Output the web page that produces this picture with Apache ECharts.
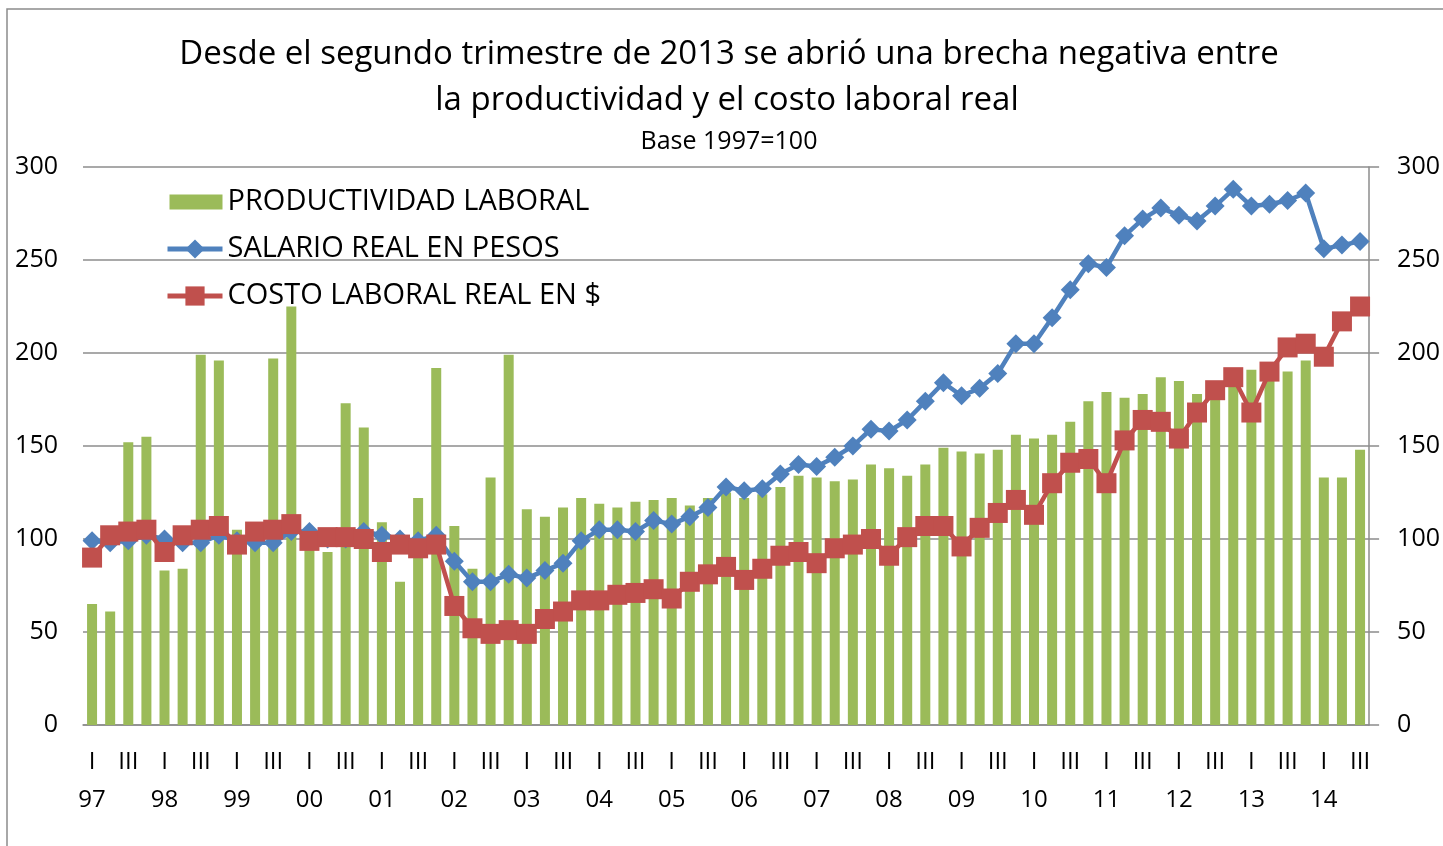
<!DOCTYPE html>
<html>
<head>
<meta charset="utf-8">
<script src="https://cdn.jsdelivr.net/npm/echarts@6/dist/echarts.min.js"></script>
<style>
html,body{margin:0;padding:0;background:#fff;}
#chart{width:1443px;height:846px;}
</style>
</head>
<body>
<div id="chart"></div>
<script>
// ---- data ----
var years = ['97','98','99','00','01','02','03','04','05','06','07','08','09','10','11','12','13','14'];
var quarterLabels = ['I','','III',''];
var nQuarters = 71; // 1997 Q1 .. 2014 Q3

var productividad = [65,61,152,155,83,84,199,196,105,97,197,225,98,93,173,160,109,77,122,192,
  107,84,133,199,116,112,117,122,119,117,120,121,122,118,122,125,122,124,128,134,
  133,131,132,140,138,134,140,149,147,146,148,156,154,156,163,174,179,176,178,187,
  185,178,181,186,191,187,190,196,133,133,148];

var salario = [99,98,99,102,100,98,98,102,99,98,98,104,104,100,100,104,102,100,99,102,
  88,77,77,81,79,83,87,99,105,105,104,110,108,112,117,128,126,127,135,140,
  139,144,150,159,158,164,174,184,177,181,189,205,205,219,234,248,246,263,272,278,
  274,271,279,288,279,280,282,286,256,258,260];

var costo = [90,102,104,105,93,102,105,107,97,104,105,108,99,101,101,100,93,97,95,97,
  64,52,49,51,49,57,61,67,67,70,71,73,68,77,81,85,78,84,91,93,
  87,95,97,100,91,101,107,107,96,106,114,121,113,130,141,143,130,153,164,163,
  154,168,180,187,168,190,203,205,198,217,225];

var yTicks = {min:0, max:300, interval:50};

var titleLine1 = 'Desde el segundo trimestre de 2013 se abrió una brecha negativa entre';
var titleLine2 = 'la productividad y el costo laboral real';
var subTitle = 'Base 1997=100';
var seriesNames = ['PRODUCTIVIDAD LABORAL','SALARIO REAL EN PESOS','COSTO LABORAL REAL EN $'];

// ---- build ----
var categories = [];
for (var i = 0; i < nQuarters; i++) {
  var q = i % 4, y = Math.floor(i / 4);
  var lab = quarterLabels[q];
  if (q === 0) lab = lab + '\n' + years[y];
  categories.push(lab);
}

var FONT = '"Open Sans", sans-serif';
var GRAY = '#8c8c8c';
// bar legend icon: 55x15 rectangle centred in a 24px-high box
var barIcon = 'path://M0,0L0.01,0L0.01,0.01Z M2,4.5L55,4.5L55,19.5L2,19.5Z M0,23.99L0.01,23.99L0.01,24Z';

var chart = echarts.init(document.getElementById('chart'));
chart.setOption({
  animation: false,
  backgroundColor: '#fff',
  graphic: [
    {type:'rect', shape:{x:7, y:9, width:1460, height:860}, style:{fill:'none', stroke:GRAY, lineWidth:1.5}, silent:true, z:-10},
    {type:'text', x:729, y:55, style:{text:titleLine1, font:'33px ' + FONT, fill:'#000', textAlign:'center', textVerticalAlign:'middle'}},
    {type:'text', x:727, y:101, style:{text:titleLine2, font:'33px ' + FONT, fill:'#000', textAlign:'center', textVerticalAlign:'middle'}},
    {type:'text', x:729, y:142, style:{text:subTitle, font:'25px ' + FONT, fill:'#000', textAlign:'center', textVerticalAlign:'middle'}}
  ],
  legend: {
    orient: 'vertical',
    left: 160,
    top: 180,
    itemWidth: 55,
    itemHeight: 24,
    itemGap: 13,
    lineStyle: {width: 5},
    textStyle: {fontFamily: FONT, fontSize: 29, color: '#000', lineHeight: 34, padding: [0,0,0,0]},
    data: [
      {name: seriesNames[0], icon: barIcon},
      {name: seriesNames[1]},
      {name: seriesNames[2]}
    ]
  },
  grid: {left: 83, right: 69, top: 167, bottom: 121, containLabel: false},
  xAxis: {
    type: 'category',
    data: categories,
    boundaryGap: true,
    axisLine: {show: true, lineStyle: {color: GRAY, width: 1.5}},
    axisTick: {show: false},
    axisLabel: {interval: 0, color: '#000', fontFamily: FONT, fontSize: 24, lineHeight: 38, margin: 18}
  },
  yAxis: [
    {
      type: 'value', position: 'left', min: yTicks.min, max: yTicks.max, interval: yTicks.interval,
      axisLine: {show: false}, axisTick: {show: false},
      splitLine: {show: true, lineStyle: {color: GRAY, width: 1.5}},
      axisLabel: {color: '#000', fontFamily: FONT, fontSize: 25, margin: 25}
    },
    {
      type: 'value', position: 'right', min: yTicks.min, max: yTicks.max, interval: yTicks.interval,
      axisLine: {show: true, lineStyle: {color: GRAY, width: 1.5}},
      axisTick: {show: true, inside: false, length: 10, lineStyle: {color: GRAY, width: 1.5}},
      splitLine: {show: false},
      axisLabel: {color: '#000', fontFamily: FONT, fontSize: 25, margin: 28, align: 'left'}
    }
  ],
  series: [
    {
      name: seriesNames[0], type: 'bar', data: productividad, yAxisIndex: 0,
      barWidth: 10, itemStyle: {color: '#9BBB59'}, z: 1
    },
    {
      name: seriesNames[1], type: 'line', data: salario, yAxisIndex: 0,
      symbol: 'diamond', symbolSize: 19, showAllSymbol: true,
      lineStyle: {color: '#4F81BD', width: 4.5}, itemStyle: {color: '#4F81BD'}, z: 3
    },
    {
      name: seriesNames[2], type: 'line', data: costo, yAxisIndex: 0,
      symbol: 'rect', symbolSize: 20, showAllSymbol: true,
      lineStyle: {color: '#C0504D', width: 4.5}, itemStyle: {color: '#C0504D'}, z: 4
    }
  ]
});
</script>
</body>
</html>
